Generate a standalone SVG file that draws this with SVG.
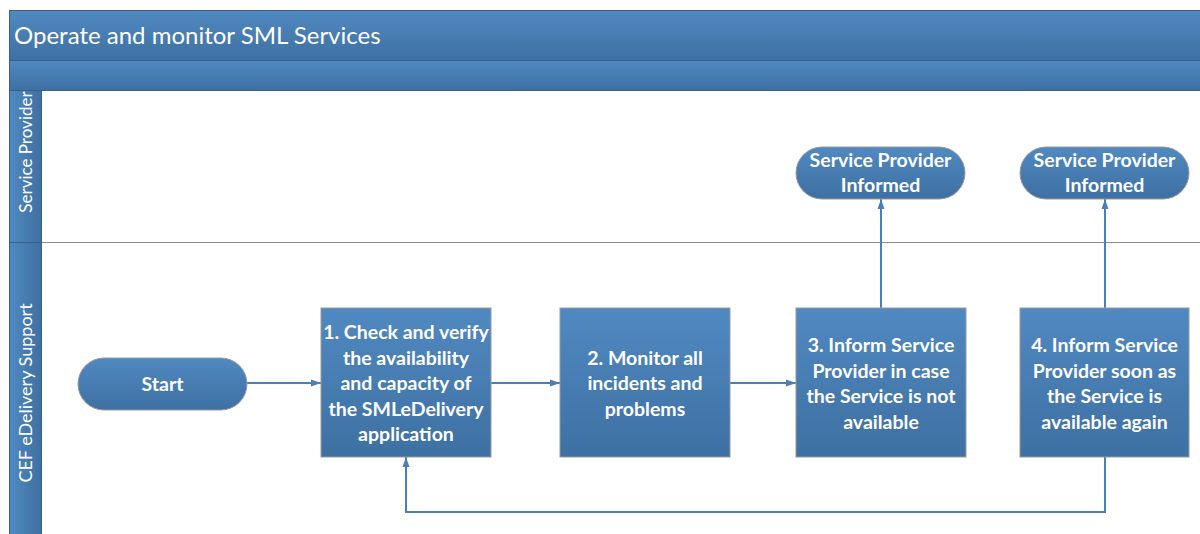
<svg xmlns="http://www.w3.org/2000/svg" width="1200" height="534" viewBox="0 0 1200 534">
<defs>
<linearGradient id="gv" x1="0" y1="0" x2="0" y2="1">
<stop offset="0" stop-color="#5089c1"/>
<stop offset="1" stop-color="#3e70a2"/>
</linearGradient>
<linearGradient id="gh" x1="0" y1="0" x2="1" y2="0">
<stop offset="0" stop-color="#5089c1"/>
<stop offset="1" stop-color="#3e70a2"/>
</linearGradient>
<marker id="ah" viewBox="0 0 10 10" refX="10" refY="5" markerWidth="10" markerHeight="10" markerUnits="userSpaceOnUse" orient="auto">
<path d="M0,1.5 L10,5 L0,8.5 Z" fill="#4a7fb8"/>
</marker>
<style>
.band{fill:url(#gv);stroke:#3b5f85;stroke-width:1}
.lane{fill:url(#gh);stroke:#3b5f85;stroke-width:1}
.box{fill:url(#gv);stroke:#9a9a9a;stroke-width:1}
.t{font-family:Lato,"Open Sans","Liberation Sans",sans-serif;fill:#fff}
.bt{font-family:Lato,"Open Sans","Liberation Sans",sans-serif;fill:#fff;font-weight:bold;font-size:19.5px;text-anchor:middle}
.con{fill:none;stroke:#4a7fb8;stroke-width:2}
</style>
</defs>
<rect x="0" y="0" width="1200" height="534" fill="#fff"/>
<g id="pool">
<rect class="band" x="9.5" y="10.5" width="1200" height="50"/>
<text class="t" x="14" y="44" font-size="24">Operate and monitor SML Services</text>
<rect class="band" x="9.5" y="60.5" width="1200" height="30"/>
</g>
<g id="lane-sp">
<rect class="lane" x="9.5" y="90.5" width="32" height="152"/>
<text class="t" font-size="17" text-anchor="middle" transform="translate(32,152) rotate(-90)">Service Provider</text>
</g>
<g id="lane-cef">
<rect class="lane" x="9.5" y="242.5" width="32" height="300"/>
<text class="t" font-size="18" text-anchor="middle" transform="translate(32,393) rotate(-90)">CEF eDelivery Support</text>
</g>
<line x1="42" y1="242.5" x2="1200" y2="242.5" stroke="#8a8a8a" stroke-width="1"/>
<g id="connectors">
<line class="con" x1="247" y1="383" x2="321" y2="383" marker-end="url(#ah)"/>
<line class="con" x1="491" y1="383" x2="560" y2="383" marker-end="url(#ah)"/>
<line class="con" x1="730" y1="383" x2="796" y2="383" marker-end="url(#ah)"/>
<line class="con" x1="881" y1="308" x2="881" y2="199" marker-end="url(#ah)"/>
<line class="con" x1="1105" y1="308" x2="1105" y2="199" marker-end="url(#ah)"/>
<polyline class="con" points="1105,457 1105,512 406,512 406,457" marker-end="url(#ah)"/>
</g>
<g id="start">
<rect class="box" x="78" y="358" width="169" height="52" rx="26"/>
<text class="bt" x="162.5" y="391">Start</text>
</g>
<g id="step1">
<rect class="box" x="321" y="308" width="170" height="149"/>
<text class="bt"><tspan x="406" y="339">1. Check and verify</tspan><tspan x="406" y="364.5">the availability</tspan><tspan x="406" y="390">and capacity of</tspan><tspan x="406" y="415.5">the SMLeDelivery</tspan><tspan x="406" y="441">application</tspan></text>
</g>
<g id="step2">
<rect class="box" x="560" y="308" width="170" height="149"/>
<text class="bt"><tspan x="645" y="364.5">2. Monitor all</tspan><tspan x="645" y="390">incidents and</tspan><tspan x="645" y="415.5">problems</tspan></text>
</g>
<g id="step3">
<rect class="box" x="796" y="308" width="170" height="149"/>
<text class="bt"><tspan x="881" y="352">3. Inform Service</tspan><tspan x="881" y="377.5">Provider in case</tspan><tspan x="881" y="403">the Service is not</tspan><tspan x="881" y="428.5">available</tspan></text>
</g>
<g id="step4">
<rect class="box" x="1020" y="308" width="169" height="149"/>
<text class="bt"><tspan x="1104.5" y="352">4. Inform Service</tspan><tspan x="1104.5" y="377.5">Provider soon as</tspan><tspan x="1104.5" y="403">the Service is</tspan><tspan x="1104.5" y="428.5">available again</tspan></text>
</g>
<g id="informed1">
<rect class="box" x="796" y="147" width="169" height="52" rx="26"/>
<text class="bt"><tspan x="880.5" y="167">Service Provider</tspan><tspan x="880.5" y="192">Informed</tspan></text>
</g>
<g id="informed2">
<rect class="box" x="1020" y="147" width="169" height="52" rx="26"/>
<text class="bt"><tspan x="1104.5" y="167">Service Provider</tspan><tspan x="1104.5" y="192">Informed</tspan></text>
</g>
</svg>
